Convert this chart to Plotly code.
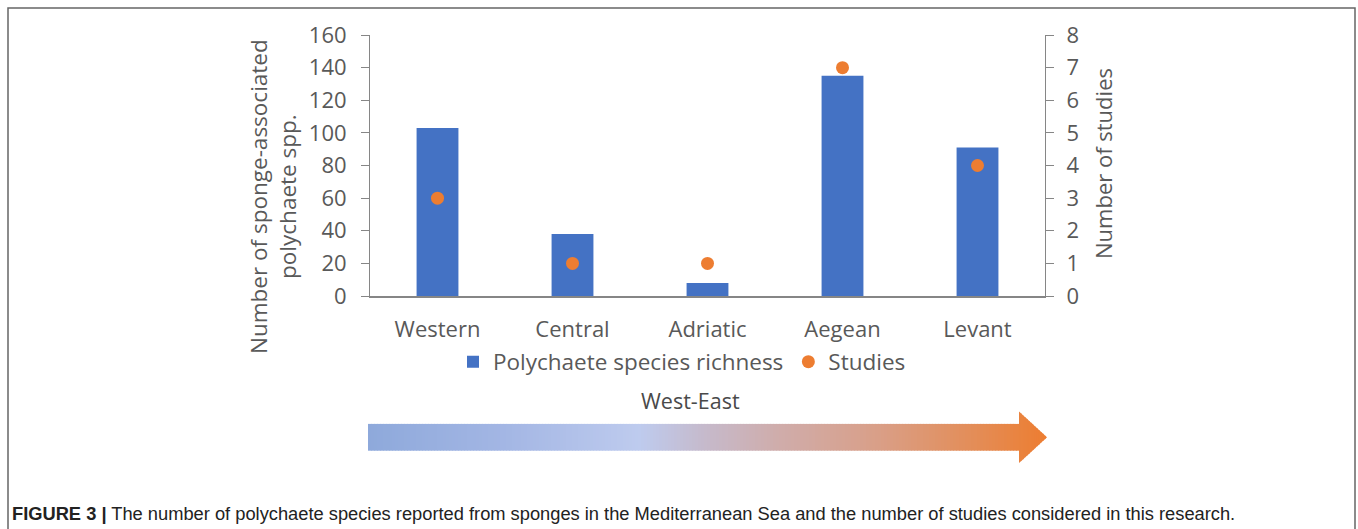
import plotly.graph_objects as go

# Regions of the Mediterranean, west to east
regions = ["Western", "Central", "Adriatic", "Aegean", "Levant"]
species_richness = [103, 38, 8, 135, 91]
studies = [3, 1, 1, 7, 4]

left_ticks = [0, 20, 40, 60, 80, 100, 120, 140, 160]
right_ticks = [0, 1, 2, 3, 4, 5, 6, 7, 8]

W, H = 1358, 529
# plot area in pixels
PX0, PX1 = 370, 1045
PY0, PY1 = 35, 296

BLUE = "#4472C4"
ORANGE = "#ED7D31"
TXT = "#595959"
AXIS = "#868686"
FONT = "Open Sans"


def px(x):
    return (x - PX0) / (PX1 - PX0)


def py(y):
    return (PY1 - y) / (PY1 - PY0)


fig = go.Figure()
fig.add_trace(go.Bar(
    x=regions, y=species_richness, name="Polychaete species richness",
    marker=dict(color=BLUE, line=dict(width=0)), width=0.31, yaxis="y",
))
fig.add_trace(go.Scatter(
    x=regions, y=studies, name="Studies", mode="markers",
    marker=dict(color=ORANGE, size=13), yaxis="y2",
))

# gradient arrow (West-East), drawn as thin vertical slices
stops = [
    (0.0, (0x8E, 0xA9, 0xDB)),
    (0.2, (0xA3, 0xB6, 0xE4)),
    (0.4, (0xBE, 0xCB, 0xEE)),
    (0.5, (0xC6, 0xB9, 0xCA)),
    (0.6, (0xCF, 0xAD, 0xAC)),
    (0.75, (0xD9, 0x9F, 0x88)),
    (0.9, (0xE4, 0x8C, 0x55)),
    (1.0, (0xED, 0x7D, 0x31)),
]


def grad(t):
    for (t0, c0), (t1, c1) in zip(stops[:-1], stops[1:]):
        if t <= t1:
            f = (t - t0) / (t1 - t0) if t1 > t0 else 0
            c = [round(a + (b - a) * f) for a, b in zip(c0, c1)]
            return "rgb(%d,%d,%d)" % tuple(c)
    return "rgb(237,125,49)"


AX0, AXB, AX1 = 368, 1019, 1047
AYC, BODY_H, HEAD_H = 437.3, 13.4, 25.8
shapes = []
step = 3
x = AX0
while x < AXB:
    x2 = min(x + step, AXB)
    t = ((x + x2) / 2 - AX0) / (AX1 - AX0)
    shapes.append(dict(type="rect", xref="paper", yref="paper",
                       x0=px(x), x1=px(x2 + 0.6), y0=py(AYC + BODY_H), y1=py(AYC - BODY_H),
                       fillcolor=grad(t), line=dict(width=0), layer="above"))
    x = x2
x = AXB
while x < AX1:
    x2 = min(x + 2, AX1)
    t = ((x + x2) / 2 - AX0) / (AX1 - AX0)
    h1 = HEAD_H * (AX1 - x) / (AX1 - AXB)
    h2 = HEAD_H * (AX1 - min(x2 + 0.5, AX1)) / (AX1 - AXB)
    xe = min(x2 + 0.5, AX1)
    path = "M %f,%f L %f,%f L %f,%f L %f,%f Z" % (
        px(x), py(AYC - h1), px(xe), py(AYC - h2), px(xe), py(AYC + h2), px(x), py(AYC + h1))
    shapes.append(dict(type="path", xref="paper", yref="paper", path=path,
                       fillcolor=grad(t), line=dict(width=0), layer="above"))
    x = x2

# outer frame
shapes.append(dict(type="rect", xref="paper", yref="paper",
                   x0=px(8), x1=px(1355), y0=py(545), y1=py(8),
                   line=dict(color="#666666", width=1.5), fillcolor="rgba(0,0,0,0)"))

annotations = [
    dict(text="Number of sponge-associated<br>polychaete spp.", xref="paper", yref="paper",
         x=px(273), y=py(197), textangle=-90, showarrow=False,
         font=dict(family=FONT, size=22.5, color=TXT), xanchor="center", yanchor="middle"),
    dict(text="Number of studies", xref="paper", yref="paper",
         x=px(1103), y=py(164), textangle=-90, showarrow=False,
         font=dict(family=FONT, size=22, color=TXT), xanchor="center", yanchor="middle"),
    dict(text="West-East", xref="paper", yref="paper", x=px(690), y=py(400),
         showarrow=False, font=dict(family=FONT, size=21.5, color="#4a4a4a"),
         xanchor="center", yanchor="middle"),
    dict(text="<b>FIGURE 3 |</b> The number of polychaete species reported from sponges in the "
              "Mediterranean Sea and the number of studies considered in this research.",
         xref="paper", yref="paper", x=px(10), y=py(513), showarrow=False,
         font=dict(family="Liberation Sans, Arial", size=18.3, color="#222222"),
         xanchor="left", yanchor="middle"),
]

fig.update_layout(
    width=W, height=H,
    margin=dict(l=PX0, r=W - PX1, t=PY0, b=H - PY1, autoexpand=False),
    paper_bgcolor="white", plot_bgcolor="white",
    showlegend=True,
    legend=dict(orientation="h", x=px(682), xanchor="center", y=py(362), yanchor="middle",
                font=dict(family=FONT, size=22.5, color=TXT), bgcolor="rgba(0,0,0,0)",
                itemwidth=30, tracegroupgap=0),
    xaxis=dict(showline=True, linecolor=AXIS, linewidth=1.5, ticks="", showgrid=False,
               tickfont=dict(family=FONT, size=22, color=TXT), ticklabelstandoff=13,
               zeroline=False),
    yaxis=dict(range=[0, 160], tickvals=left_ticks, showline=True, linecolor=AXIS, linewidth=1,
               ticks="outside", ticklen=8, tickcolor=AXIS, showgrid=False, zeroline=False,
               tickfont=dict(family=FONT, size=22, color=TXT), ticklabelstandoff=10),
    yaxis2=dict(range=[0, 8], tickvals=right_ticks, overlaying="y", side="right",
                showline=True, linecolor=AXIS, linewidth=1, ticks="outside", ticklen=8,
                tickcolor=AXIS, showgrid=False, zeroline=False,
                tickfont=dict(family=FONT, size=22, color=TXT), ticklabelstandoff=8),
    shapes=shapes,
    annotations=annotations,
    bargap=0.69,
)

fig.write_html("out.html")
